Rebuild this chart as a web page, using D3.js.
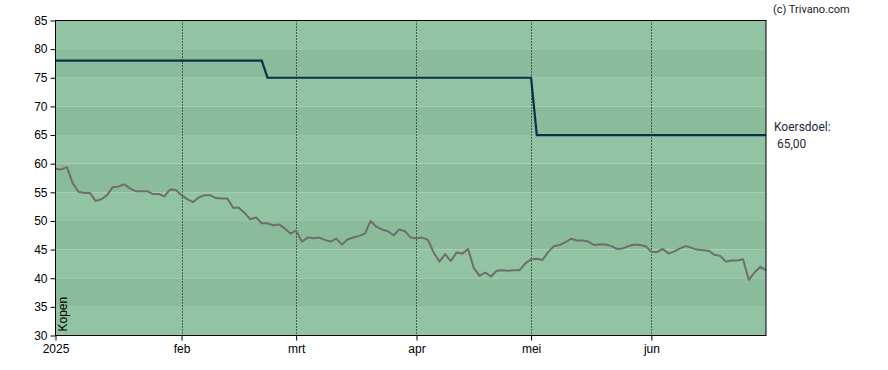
<!DOCTYPE html>
<html>
<head>
<meta charset="utf-8">
<script src="https://cdn.jsdelivr.net/npm/d3@7"></script>
<style>
  html, body { margin: 0; padding: 0; background: #fff; }
  svg { display: block; }
</style>
</head>
<body>
<div id="chart"></div>
<script>
// closing price per trading day (index 0 = 2 jan 2025)
const prices = [
  59.1, 59.0, 59.4, 56.6, 55.1, 54.9, 54.9, 53.5, 53.8, 54.5,
  55.9, 56.0, 56.4, 55.7, 55.2, 55.2, 55.2, 54.7, 54.7, 54.3,
  55.5, 55.4, 54.5, 53.8, 53.3, 54.1, 54.5, 54.5, 54.0, 53.9,
  53.9, 52.3, 52.3, 51.4, 50.3, 50.6, 49.6, 49.6, 49.2, 49.4,
  48.7, 47.8, 48.3, 46.4, 47.1, 47.0, 47.1, 46.7, 46.4, 46.9,
  45.9, 46.8, 47.1, 47.4, 47.8, 50.0, 49.0, 48.5, 48.2, 47.5,
  48.5, 48.2, 47.1, 47.0, 47.1, 46.7, 44.5, 42.9, 44.2, 43.0,
  44.5, 44.3, 45.1, 41.8, 40.4, 41.0, 40.3, 41.3, 41.4, 41.3,
  41.4, 41.4, 42.6, 43.3, 43.4, 43.2, 44.6, 45.6, 45.8, 46.3,
  46.9, 46.6, 46.6, 46.4, 45.8, 45.9, 45.9, 45.6, 45.1, 45.2,
  45.6, 45.9, 45.8, 45.6, 44.6, 44.6, 45.1, 44.3, 44.7, 45.2,
  45.6, 45.3, 45.0, 44.9, 44.8, 44.1, 43.9, 42.9, 43.1, 43.1,
  43.3, 39.7, 41.0, 42.0, 41.4
];

// koersdoel (price target) step points: trading-day index and value
const targetIdx = [0, 36, 37, 83, 84, 124];
const targetVals = [78, 78, 75, 75, 65, 65];

// month starts as trading-day index
const monthIdx = [0, 22, 42, 63, 83, 104];
const monthLabels = ["2025", "feb", "mrt", "apr", "mei", "jun"];

const yTicks = [30, 35, 40, 45, 50, 55, 60, 65, 70, 75, 80, 85];

const targetLabel = "Koersdoel:";
const targetValueLabel = "65,00";

const width = 888, height = 370;
const margin = { top: 20.5, right: 122, bottom: 34.5, left: 55.5 };

const svg = d3.select("#chart").append("svg")
  .attr("width", width)
  .attr("height", height);

const x = d3.scaleLinear()
  .domain([0, prices.length - 1])
  .range([margin.left, width - margin.right]);

const y = d3.scaleLinear()
  .domain([30, 85])
  .range([height - margin.bottom, margin.top]);

// background bands
const bands = yTicks.slice(0, -1);
svg.append("g").selectAll("rect")
  .data(bands)
  .enter()
  .append("rect")
  .attr("x", x(0))
  .attr("width", x(prices.length - 1) - x(0))
  .attr("y", d => y(d + 5))
  .attr("height", d => y(d) - y(d + 5))
  .attr("fill", d => (d / 5) % 2 === 0 ? "#92c3a2" : "#8abb9b");

// dotted month lines
svg.append("g").selectAll("line")
  .data(monthIdx.slice(1))
  .enter()
  .append("line")
  .attr("x1", d => Math.round(x(d)) + 0.5)
  .attr("x2", d => Math.round(x(d)) + 0.5)
  .attr("y1", y(85))
  .attr("y2", y(30))
  .attr("stroke", "#000")
  .attr("stroke-width", 1)
  .attr("stroke-dasharray", "1,2");

// price line
const line = d3.line()
  .x((d, i) => x(i))
  .y(d => y(d));

svg.append("path")
  .datum(prices)
  .attr("d", line)
  .attr("fill", "none")
  .attr("stroke", "#6e6e6e")
  .attr("stroke-width", 2)
  .attr("stroke-linejoin", "round");

// price target line
const targetLine = d3.line()
  .x(d => x(d[0]))
  .y(d => y(d[1]));

svg.append("path")
  .datum(targetIdx.map((t, i) => [t, targetVals[i]]))
  .attr("d", targetLine)
  .attr("fill", "none")
  .attr("stroke", "#0b2f4f")
  .attr("stroke-width", 2.2);

// frame
svg.append("rect")
  .attr("x", x(0))
  .attr("y", y(85))
  .attr("width", x(prices.length - 1) - x(0))
  .attr("height", y(30) - y(85))
  .attr("fill", "none")
  .attr("stroke", "#000")
  .attr("stroke-width", 1);

// axes
const yAxis = d3.axisLeft(y)
  .tickValues(yTicks)
  .tickSize(5)
  .tickPadding(3)
  .tickFormat(d => d);

svg.append("g")
  .attr("transform", "translate(" + x(0) + ",0)")
  .call(yAxis)
  .call(g => g.select(".domain").remove())
  .selectAll("text")
  .attr("font-family", "'Liberation Sans', Arial, sans-serif")
  .attr("font-size", "12px")
  .attr("fill", "#000");

const xAxis = d3.axisBottom(x)
  .tickValues(monthIdx)
  .tickSize(5)
  .tickPadding(4)
  .tickFormat((d, i) => monthLabels[i]);

svg.append("g")
  .attr("transform", "translate(0," + y(30) + ")")
  .call(xAxis)
  .call(g => g.select(".domain").remove())
  .selectAll("text")
  .attr("font-family", "'Liberation Sans', Arial, sans-serif")
  .attr("font-size", "12px")
  .attr("fill", "#000");

// "Kopen" label
svg.append("text")
  .attr("transform", "translate(" + (x(0) + 11) + "," + (y(30) - 4) + ") rotate(-90)")
  .attr("font-family", "'Liberation Sans', Arial, sans-serif")
  .attr("font-size", "12px")
  .attr("fill", "#000")
  .text("Kopen");

// annotations
svg.append("text")
  .attr("x", 773)
  .attr("y", 13)
  .attr("font-family", "Roboto, sans-serif")
  .attr("font-size", "11px")
  .attr("fill", "#222")
  .text("(c) Trivano.com");

svg.append("text")
  .attr("x", 774)
  .attr("y", 131)
  .attr("font-family", "Roboto, sans-serif")
  .attr("font-size", "12px")
  .attr("fill", "#1a2a3a")
  .text(targetLabel);

svg.append("text")
  .attr("x", 777)
  .attr("y", 148)
  .attr("font-family", "Roboto, sans-serif")
  .attr("font-size", "12px")
  .attr("fill", "#1a2a3a")
  .text(targetValueLabel);
</script>
</body>
</html>
